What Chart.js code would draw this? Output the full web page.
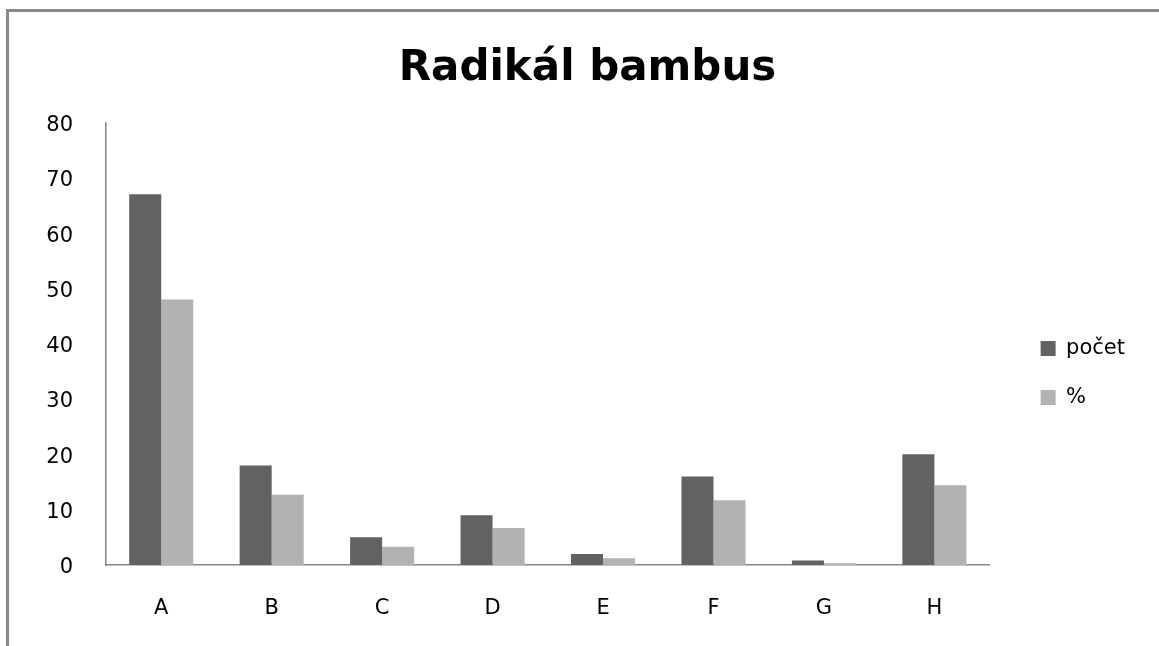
<!DOCTYPE html>
<html>
<head>
<meta charset="utf-8">
<script src="https://cdn.jsdelivr.net/npm/chart.js@4.4.0/dist/chart.umd.min.js"></script>
<style>
  html, body { margin: 0; padding: 0; background: #fff; }
  #wrap { position: relative; width: 1159px; height: 646px; }
  #frame { position: absolute; left: 6px; top: 9px; right: 0; bottom: 0;
           border-top: 3px solid #8a8a8a; border-left: 3px solid #8a8a8a; pointer-events: none; }
</style>
</head>
<body>
<div id="wrap">
  <canvas id="myChart" width="1159" height="646"></canvas>
  <div id="frame"></div>
</div>
<script>
// data
const kategorie = ['A', 'B', 'C', 'D', 'E', 'F', 'G', 'H'];
const pocet = [67, 18, 5, 9, 2, 16, 0.8, 20];
const procenta = [48, 12.7, 3.3, 6.7, 1.2, 11.7, 0.3, 14.4];
const yTicks = [0, 10, 20, 30, 40, 50, 60, 70, 80];

const tickFont = { family: 'DejaVu Sans', size: 21 };

// posun titulku a legendy jako v excelu
const posun = {
  id: 'posun',
  afterLayout(chart) {
    chart.titleBlock.left += 20;
    chart.titleBlock.right += 20;
    chart.legend.top += 50;
    chart.legend.bottom += 50;
  }
};

const ctx = document.getElementById('myChart');
const myChart = new Chart(ctx, {
  type: 'bar',
  data: {
    labels: kategorie,
    datasets: [
      { label: 'počet', data: pocet, backgroundColor: '#626262', borderWidth: 0,
        categoryPercentage: 0.58, barPercentage: 1.0 },
      { label: '%', data: procenta, backgroundColor: '#b2b2b2', borderWidth: 0,
        categoryPercentage: 0.58, barPercentage: 1.0 }
    ]
  },
  plugins: [posun],
  options: {
    responsive: false,
    animation: false,
    layout: { padding: { top: 0, left: 0, right: 24, bottom: 0 } },
    plugins: {
      tooltip: { enabled: false },
      title: {
        display: true,
        text: 'Radikál bambus',
        color: '#000',
        font: { family: 'DejaVu Sans', size: 42, weight: 'bold' },
        padding: { top: 44, bottom: 28 }
      },
      legend: {
        position: 'right',
        labels: {
          color: '#000',
          font: { family: 'DejaVu Sans', size: 21 },
          boxWidth: 15,
          boxHeight: 15,
          padding: 28
        }
      }
    },
    scales: {
      x: {
        grid: { display: false, drawTicks: false },
        border: { display: true, color: '#868686', width: 1.5 },
        ticks: { color: '#000', font: tickFont, padding: 31 },
        afterFit: s => { s.height = 81; }
      },
      y: {
        min: 0,
        max: 80,
        afterBuildTicks: s => { s.ticks = yTicks.map(v => ({ value: v })); },
        grid: { display: false, drawTicks: false },
        border: { display: true, color: '#868686', width: 1.5 },
        ticks: { color: '#000', font: tickFont, padding: 33, labelOffset: 3 },
        afterFit: s => { s.width = 106; }
      },
      // prazdna osa jen kvuli mezere pred legendou
      y2: {
        position: 'right',
        grid: { display: false, drawTicks: false },
        border: { display: false },
        ticks: { display: false },
        afterFit: s => { s.width = 23; }
      }
    }
  }
});
</script>
</body>
</html>
